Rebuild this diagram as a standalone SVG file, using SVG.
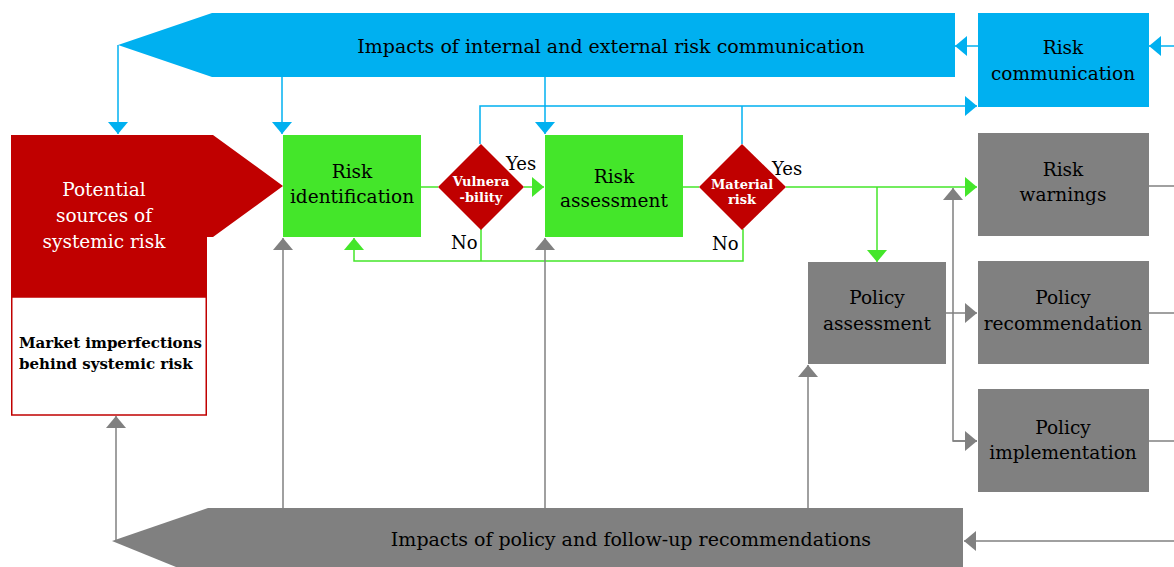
<svg xmlns="http://www.w3.org/2000/svg" width="1174" height="567" viewBox="0 0 1174 567">
<style>
text{font-family:"DejaVu Serif","Liberation Serif",serif;}
.t{font-size:18.5px;fill:#000;text-anchor:middle;}
.b{font-size:19px;fill:#000;text-anchor:middle;}
.w{font-size:18.5px;fill:#fff;text-anchor:middle;}
.d{font-size:13px;fill:#fff;font-weight:bold;text-anchor:middle;}
.m{font-size:15px;fill:#000;font-weight:bold;}
.lbl{font-size:18px;fill:#000;}
.blue{fill:#00B0F0;}
.green{fill:#44E62A;}
.red{fill:#C00000;}
.grey{fill:#808080;}
.lb{stroke:#00B0F0;stroke-width:1.5;fill:none;}
.lg{stroke:#44E62A;stroke-width:1.5;fill:none;}
.lk{stroke:#808080;stroke-width:1.5;fill:none;}
</style>
<defs>
<marker id="ab" markerUnits="userSpaceOnUse" markerWidth="12" markerHeight="20" refX="12" refY="10" orient="auto"><path d="M0,0 L12,10 L0,20 z" fill="#00B0F0"/></marker>
<marker id="ag" markerUnits="userSpaceOnUse" markerWidth="12" markerHeight="20" refX="12" refY="10" orient="auto"><path d="M0,0 L12,10 L0,20 z" fill="#44E62A"/></marker>
<marker id="ak" markerUnits="userSpaceOnUse" markerWidth="12" markerHeight="20" refX="12" refY="10" orient="auto"><path d="M0,0 L12,10 L0,20 z" fill="#808080"/></marker>
</defs>

<g id="connectors">
<path class="lb" d="M118,45 V134" marker-end="url(#ab)"/>
<path class="lb" d="M282,77 V134" marker-end="url(#ab)"/>
<path class="lb" d="M545,77 V134" marker-end="url(#ab)"/>
<path class="lb" d="M480,144 V106 H977" marker-end="url(#ab)"/>
<path class="lb" d="M742,144 V106"/>
<path class="lb" d="M978,46 H955" marker-end="url(#ab)"/>
<path class="lb" d="M1174,46 H1149" marker-end="url(#ab)"/>
<path class="lg" d="M421,187 H438"/>
<path class="lg" d="M524,187 H544" marker-end="url(#ag)"/>
<path class="lg" d="M683,187 H699"/>
<path class="lg" d="M786,187 H977" marker-end="url(#ag)"/>
<path class="lg" d="M877,187 V262" marker-end="url(#ag)"/>
<path class="lg" d="M481,229 V261"/>
<path class="lg" d="M743,229 V261 H354 V238" marker-end="url(#ag)"/>
<path class="lk" d="M116,540 V416" marker-end="url(#ak)"/>
<path class="lk" d="M283,508 V238" marker-end="url(#ak)"/>
<path class="lk" d="M545,508 V238" marker-end="url(#ak)"/>
<path class="lk" d="M808,508 V365" marker-end="url(#ak)"/>
<path class="lk" d="M946,313 H977" marker-end="url(#ak)"/>
<path class="lk" d="M977,441 H953 V188" marker-end="url(#ak)"/>
<path class="lk" d="M953,441 H977" marker-end="url(#ak)"/>
<path class="lk" d="M1149,186 H1174"/>
<path class="lk" d="M1149,313 H1174"/>
<path class="lk" d="M1149,441 H1174"/>
<path class="lk" d="M1174,541 H964" marker-end="url(#ak)"/>
</g>

<g id="banner-communication">
<polygon class="blue" points="118,45 212,13 955,13 955,77 212,77"/>
<text class="b" x="611" y="53">Impacts of internal and external risk communication</text>
</g>

<g id="risk-communication">
<rect class="blue" x="978" y="13" width="171" height="94"/>
<text class="t" x="1063" y="54">Risk</text>
<text class="t" x="1063" y="80">communication</text>
</g>

<g id="potential-sources">
<polygon class="red" points="11,135 213,135 283,186 213,237 207,237 207,297 11,297"/>
<text class="w" x="104" y="196">Potential</text>
<text class="w" x="104" y="222">sources of</text>
<text class="w" x="104" y="248">systemic risk</text>
</g>

<g id="market-imperfections">
<rect x="11.75" y="297" width="194.5" height="118" fill="#fff" stroke="#C00000" stroke-width="1.5"/>
<text class="m" x="19" y="348">Market imperfections</text>
<text class="m" x="19" y="369">behind systemic risk</text>
</g>

<g id="risk-identification">
<rect class="green" x="283" y="135" width="138" height="102"/>
<text class="t" x="352" y="178">Risk</text>
<text class="t" x="352" y="203">identification</text>
</g>

<g id="vulnerability">
<polygon class="red" points="481,144 524,187 481,230 438,187"/>
<text class="d" x="481" y="186">Vulnera</text>
<text class="d" x="481" y="202">-bility</text>
<text class="lbl" x="506" y="170">Yes</text>
<text class="lbl" x="451" y="249">No</text>
</g>

<g id="risk-assessment">
<rect class="green" x="545" y="135" width="138" height="102"/>
<text class="t" x="614" y="183">Risk</text>
<text class="t" x="614" y="207">assessment</text>
</g>

<g id="material-risk">
<polygon class="red" points="742,144 786,187 742,230 699,187"/>
<text class="d" x="742" y="189">Material</text>
<text class="d" x="742" y="204">risk</text>
<text class="lbl" x="772" y="175">Yes</text>
<text class="lbl" x="712" y="250">No</text>
</g>

<g id="risk-warnings">
<rect class="grey" x="978" y="133" width="171" height="103"/>
<text class="t" x="1063" y="176">Risk</text>
<text class="t" x="1063" y="201">warnings</text>
</g>

<g id="policy-assessment">
<rect class="grey" x="808" y="262" width="138" height="102"/>
<text class="t" x="877" y="304">Policy</text>
<text class="t" x="877" y="330">assessment</text>
</g>

<g id="policy-recommendation">
<rect class="grey" x="978" y="261" width="171" height="103"/>
<text class="t" x="1063" y="304">Policy</text>
<text class="t" x="1063" y="330">recommendation</text>
</g>

<g id="policy-implementation">
<rect class="grey" x="978" y="389" width="171" height="103"/>
<text class="t" x="1063" y="434">Policy</text>
<text class="t" x="1063" y="459">implementation</text>
</g>

<g id="banner-policy">
<polygon class="grey" points="112,541 208,508 963,508 963,580 208,580"/>
<text class="b" x="631" y="546">Impacts of policy and follow-up recommendations</text>
</g>
</svg>
